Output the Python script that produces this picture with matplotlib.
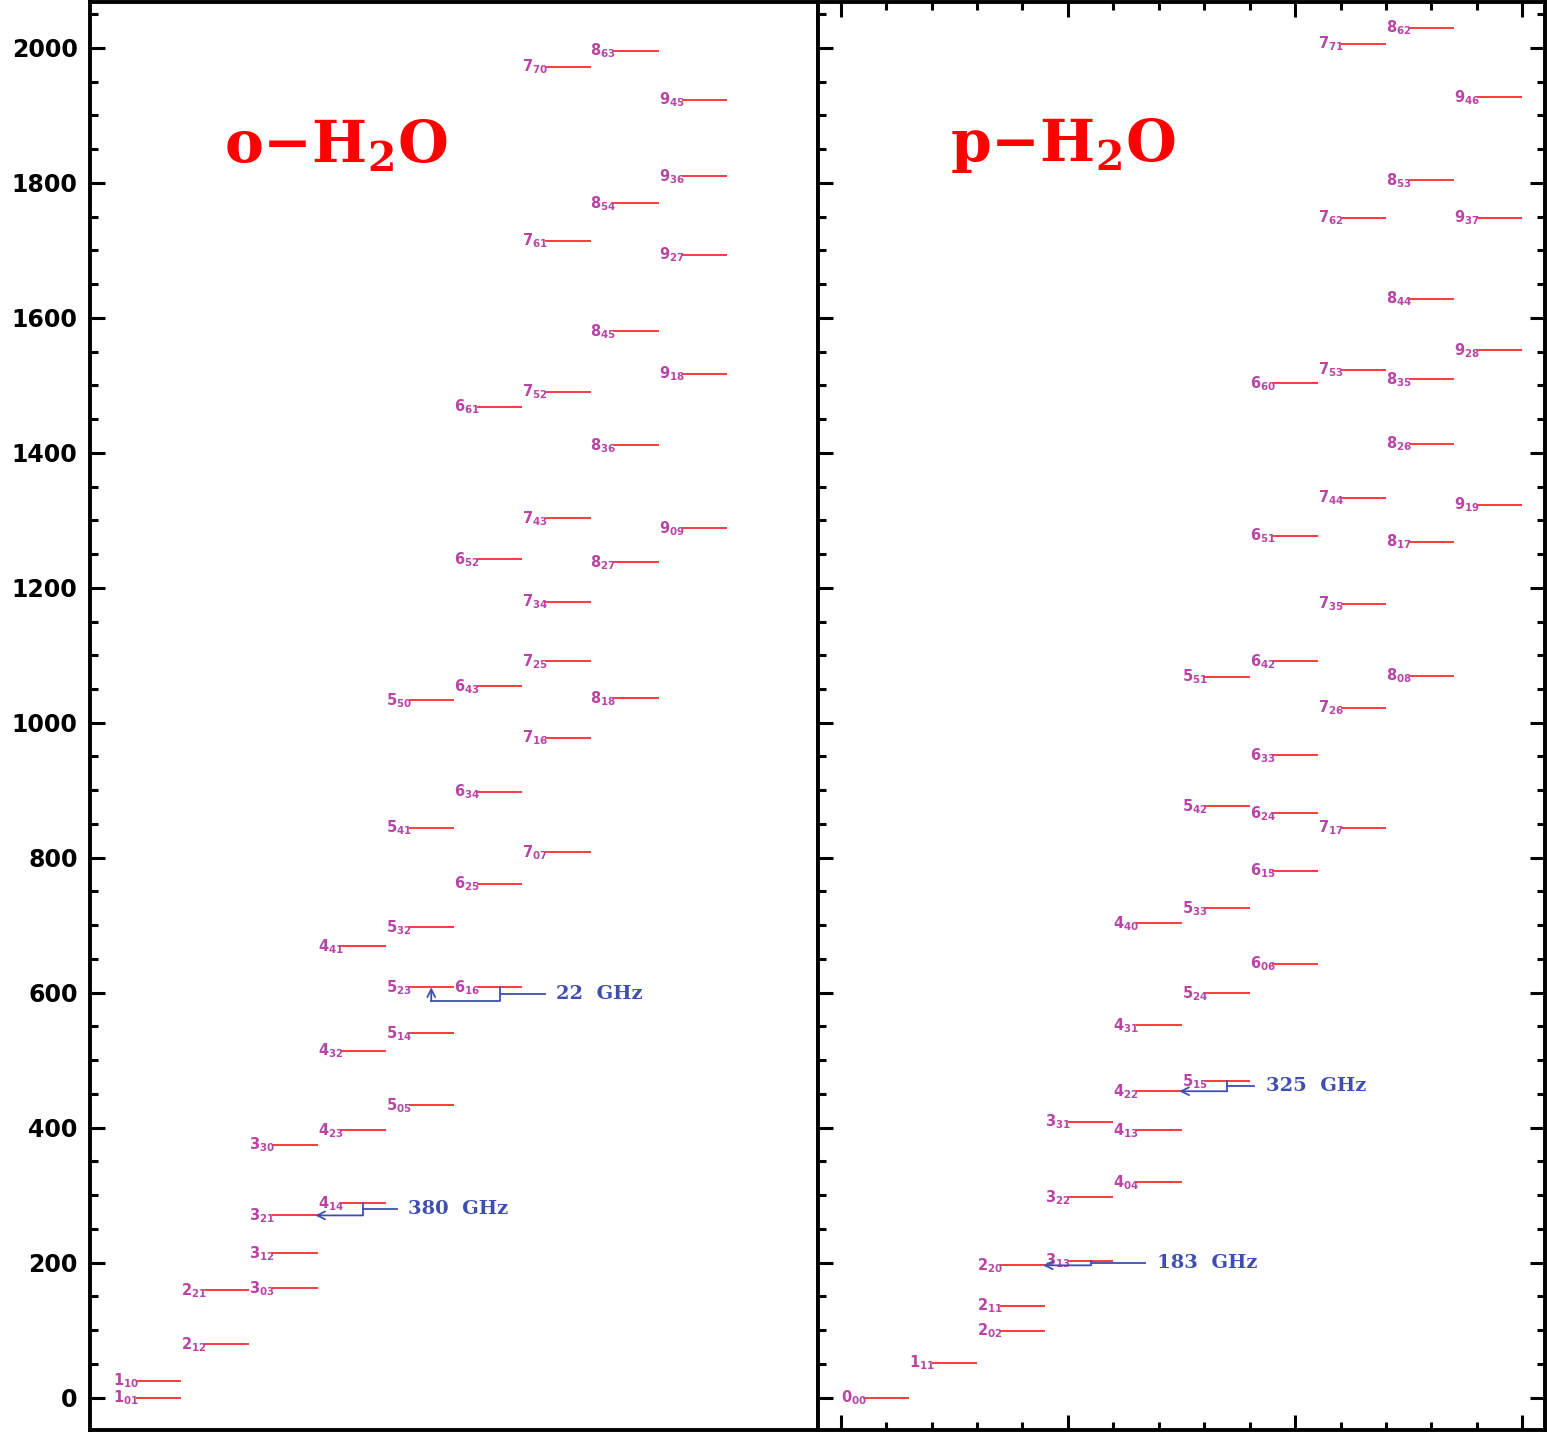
"""
Rotational energy level diagram of ortho- and para-H2O (E/k in K),
with the 22, 183, 325 and 380 GHz lines marked.
"""

import matplotlib
matplotlib.use("Agg")
import matplotlib.pyplot as plt
from matplotlib.ticker import MultipleLocator

# ─── Data (energies, K) ───────────────────────────────────────────────────────

ortho_labels = [
    "1_01", "1_10", "2_12", "2_21", "3_03", "3_12", "3_21", "4_14", "3_30", "4_23",
    "5_05", "4_32", "5_14", "5_23", "6_16", "4_41", "5_32", "6_25", "7_07", "5_41",
    "6_34", "7_16", "5_50", "8_18", "6_43", "7_25", "7_34", "8_27", "6_52", "9_09",
    "7_43", "8_36", "6_61", "7_52", "9_18", "8_45", "9_27", "7_61", "8_54", "9_36",
    "9_45", "7_70", "8_63",
]
ortho_energy = [
    0, 25, 79, 159, 162, 214, 270, 288, 375, 396,
    433, 514, 540, 608, 608, 669, 697, 761, 808, 844,
    898, 978, 1033, 1036, 1054, 1091, 1179, 1238, 1242, 1288,
    1303, 1411, 1468, 1490, 1517, 1580, 1693, 1714, 1770, 1810,
    1923, 1972, 1996,
]

para_labels = [
    "0_00", "1_11", "2_02", "2_11", "2_20", "3_13", "3_22", "4_04", "4_13", "3_31",
    "4_22", "5_15", "4_31", "5_24", "6_06", "4_40", "5_33", "6_15", "7_17", "6_24",
    "5_42", "6_33", "7_26", "5_51", "8_08", "6_42", "7_35", "8_17", "6_51", "9_19",
    "7_44", "8_26", "6_60", "8_35", "7_53", "9_28", "8_44", "7_62", "9_37", "8_53",
    "9_46", "7_71", "8_62",
]
para_energy = [
    0, 52, 99, 136, 196, 203, 297, 319, 396, 409,
    454, 469, 552, 599, 643, 703, 725, 781, 844, 866,
    876, 952, 1022, 1068, 1070, 1091, 1176, 1268, 1277, 1323,
    1333, 1413, 1503, 1509, 1523, 1552, 1628, 1748, 1748, 1804,
    1927, 2006, 2030,
]

# maser / sub-mm transitions: upper level, lower level, label
ortho_lines_up = ["4_14", "6_16"]
ortho_lines_lo = ["3_21", "5_23"]
ortho_lines_txt = ["380  GHz", "22  GHz"]
ortho_lines_txt_x = [1.30, 1.95]

para_lines_up = ["3_13", "5_15"]
para_lines_lo = ["2_20", "4_22"]
para_lines_txt = ["183  GHz", "325  GHz"]
para_lines_txt_x = [1.39, 1.87]

LEVEL_RED = "#ff1a1a"
LABEL_MAG = "#b944a6"
LINE_BLUE = "#3f4fb0"

COL_STEP = 0.3  # horizontal step per J


def _x0(label, j_offset):
    return COL_STEP * (int(label[0]) - j_offset)


def _draw_levels(ax, labels, energies, j_offset):
    for lab, e in zip(labels, energies):
        x0 = _x0(lab, j_offset)
        ax.plot([x0 + 0.1, x0 + 0.3], [e, e], color=LEVEL_RED, lw=1.2,
                solid_capstyle="butt", zorder=2)
        j, kk = lab.split("_")
        ax.text(x0, e - 7, rf"$\mathbf{{{j}}}_{{\mathbf{{{kk}}}}}$",
                color=LABEL_MAG, fontsize=10.5, ha="left", va="baseline", zorder=3)


def _draw_transitions(ax, labels, energies, ups, los, texts, text_x, j_offset):
    pos = dict(zip(labels, energies))
    kw = dict(color=LINE_BLUE, lw=1.3, zorder=4)
    arrow = dict(arrowstyle="->", color=LINE_BLUE, lw=1.3,
                 shrinkA=0, shrinkB=0, mutation_scale=14)
    for up, lo, txt, tx in zip(ups, los, texts, text_x):
        e_up, e_lo = pos[up], pos[lo]
        xb = _x0(up, j_offset) + 0.2           # middle of the upper level
        if e_up - e_lo < 5:
            # (near-)degenerate pair: dip below, arrow goes up to lower level
            bottom = e_lo - 20
            xt = _x0(lo, j_offset) + 0.2
            ax.plot([xb, xb, xt], [e_up, bottom, bottom], **kw)
            ax.annotate("", xy=(xt, e_lo), xytext=(xt, bottom), arrowprops=arrow)
        else:
            bottom = e_lo
            xt = _x0(lo, j_offset) + 0.29
            ax.plot([xb, xb], [e_up, bottom], **kw)
            ax.annotate("", xy=(xt, e_lo), xytext=(xb, e_lo), arrowprops=arrow)
        y_tail = 0.5 * (e_up + bottom)
        ax.plot([xb, tx - 0.05], [y_tail, y_tail], **kw)
        ax.text(tx, y_tail, txt, color=LINE_BLUE, fontsize=14, fontweight="bold",
                family="DejaVu Serif", ha="left", va="center")


plt.rcParams["mathtext.fontset"] = "dejavusans"

fig = plt.figure(figsize=(15.47, 14.32), dpi=100)
W, H = 1547.0, 1432.0
ax_o = fig.add_axes([90 / W, 2 / H, 728 / W, 1428 / H])
ax_p = fig.add_axes([818 / W, 2 / H, 727 / W, 1428 / H], sharey=ax_o)

for ax in (ax_o, ax_p):
    ax.set_xlim(-0.1, 3.1)
    ax.set_ylim(-48, 2068)
    for sp in ax.spines.values():
        sp.set_linewidth(2.8)
    ax.yaxis.set_major_locator(MultipleLocator(200))
    ax.yaxis.set_minor_locator(MultipleLocator(50))

# left panel: y ticks on the outer edge only, no x ticks
ax_o.tick_params(axis="y", which="both", direction="in", left=True, right=False,
                 labelsize=17, pad=9, width=2.2)
ax_o.tick_params(axis="y", which="major", length=11)
ax_o.tick_params(axis="y", which="minor", length=6)
ax_o.tick_params(axis="x", which="both", bottom=False, top=False, labelbottom=False)
for t in ax_o.get_yticklabels():
    t.set_fontweight("bold")

# right panel: ticks all round, no labels
ax_p.xaxis.set_major_locator(MultipleLocator(1))
ax_p.xaxis.set_minor_locator(MultipleLocator(0.2))
ax_p.tick_params(axis="both", which="both", direction="in", left=True, right=True,
                 top=True, bottom=True, labelleft=False, labelbottom=False, width=2.2)
ax_p.tick_params(axis="both", which="major", length=11)
ax_p.tick_params(axis="both", which="minor", length=6)

_draw_levels(ax_o, ortho_labels, ortho_energy, j_offset=1)
_draw_levels(ax_p, para_labels, para_energy, j_offset=0)

_draw_transitions(ax_o, ortho_labels, ortho_energy, ortho_lines_up, ortho_lines_lo,
                  ortho_lines_txt, ortho_lines_txt_x, j_offset=1)
_draw_transitions(ax_p, para_labels, para_energy, para_lines_up, para_lines_lo,
                  para_lines_txt, para_lines_txt_x, j_offset=0)

title_kw = dict(color="#ff0000", fontsize=42, math_fontfamily="dejavuserif",
                ha="left", va="center")
ax_o.text(0.49, 1856, r"$\mathbf{o{-}H_2O}$", **title_kw)
ax_p.text(0.48, 1856, r"$\mathbf{p{-}H_2O}$", **title_kw)

fig.savefig("out.png", dpi=100)
plt.close(fig)
